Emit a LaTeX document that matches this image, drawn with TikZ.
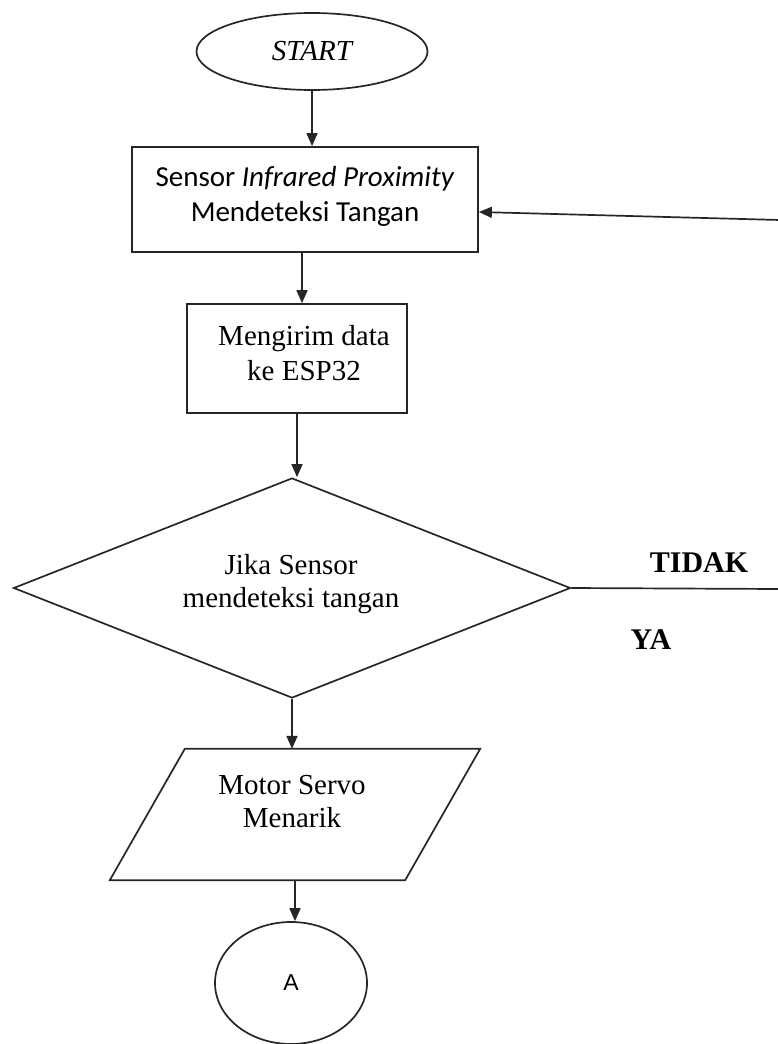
\documentclass[tikz,border=0pt]{standalone}
\usepackage{fontspec}
\setmainfont{Liberation Serif}
\newfontfamily\calib{Carlito}
\newfontfamily\arialf{Liberation Sans}
\usetikzlibrary{shapes.geometric,arrows.meta}
\tikzset{
  ln/.style={line width=1.7pt, draw=black!85},
  arr/.style={ln, -{Triangle[length=13pt,width=11pt]}},
  boxshape/.style={ln, rectangle, inner sep=0pt},
  txt/.style={align=center, inner sep=0pt, font=\fontsize{29}{35}\selectfont},
  lbl/.style={inner sep=0pt, font=\fontsize{30}{34}\selectfont\bfseries},
}
\begin{document}
\begin{tikzpicture}[x=1pt,y=-1pt]
\useasboundingbox (0,0) rectangle (777,1044);
% START
\node[ln, ellipse, minimum width=231pt, minimum height=77pt, inner sep=0pt,
      font=\fontsize{29}{35}\selectfont\itshape] (start) at (312,51.5) {START};
% Sensor box
\node[boxshape, minimum width=346pt, minimum height=105pt] (sensor) at (305,199.5) {};
\node[txt, font=\calib\fontsize{29}{35}\selectfont] (sensorT) at (305,196) {Sensor \textit{Infrared Proximity}\\Mendeteksi Tangan};
% Mengirim box
\node[boxshape, minimum width=220pt, minimum height=109pt] (kirim) at (297,358.5) {};
\node[txt] (kirimT) at (304,353) {Mengirim data\\ke ESP32};
% Decision diamond
\node[ln, diamond, minimum width=557pt, minimum height=220pt, inner sep=0pt] (cek) at (292,588) {};
\node[txt, font=\fontsize{29}{33}\selectfont] (cekT) at (291,584) {Jika Sensor\\mendeteksi tangan};
% Servo parallelogram
\node[minimum width=295pt, minimum height=131pt, inner sep=0pt] (servo) at (295,814.5) {};
\draw[ln] ([xshift=37.5pt]servo.north west) -- ([xshift=37.5pt]servo.north east)
  -- ([xshift=-37.5pt]servo.south east) -- ([xshift=-37.5pt]servo.south west) -- cycle;
\node[txt, font=\fontsize{29}{33}\selectfont] (servoT) at (292,802) {Motor Servo\\Menarik};
% Connector A
\node[ln, ellipse, minimum width=152pt, minimum height=122pt, inner sep=0pt,
      font=\arialf\fontsize{23}{27}\selectfont] (conA) at (291,983) {A};
% Labels
\node[lbl] (tidak) at (699,563) {TIDAK};
\node[lbl] (ya) at (651,640) {YA};
% Free ends
\coordinate (tidakR) at (780,589);
\coordinate (retR) at (780,220);
% Connectors
\draw[arr] (start.south) -- (start.south |- sensor.north);
\draw[arr] (sensor.south -| 302,0) -- (kirim.north -| 302,0);
\draw[arr] (kirim.south) -- (kirim.south |- cek.north);
\draw[arr] (cek.south) -- (cek.south |- servo.north);
\draw[arr] (servo.south) -- (servo.south |- conA.north);
\draw[ln] (cek.east) -- (tidakR);
\draw[arr] (retR) -- ([yshift=-12.5pt]sensor.east);
\end{tikzpicture}
\end{document}
